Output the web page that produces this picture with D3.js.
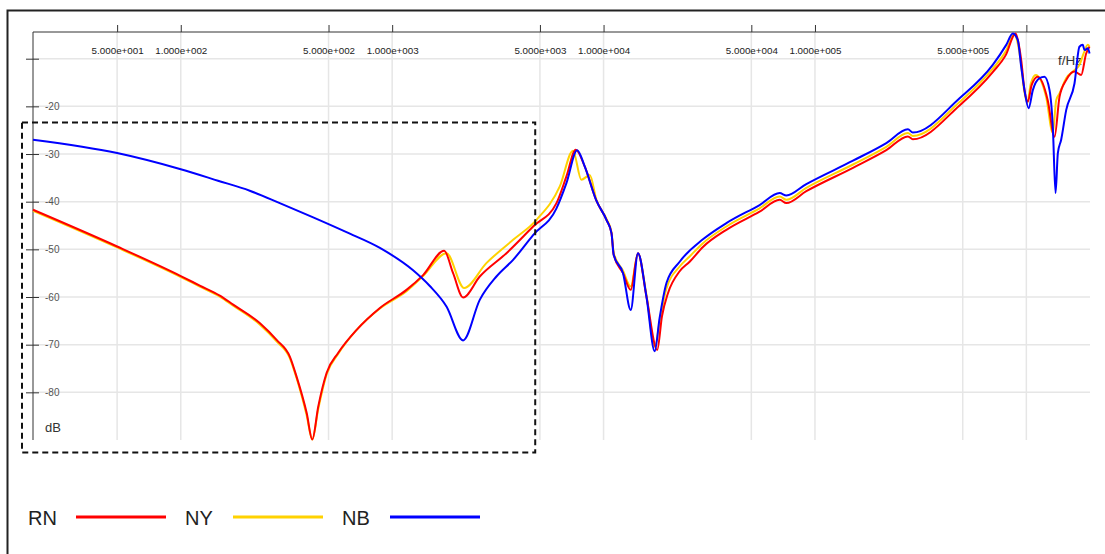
<!DOCTYPE html>
<html>
<head>
<meta charset="utf-8">
<script src="https://cdn.jsdelivr.net/npm/d3@7"></script>
<style>
  body { margin: 0; background: #fff; }
  svg { display: block; font-family: "Liberation Sans", Arial, sans-serif; }
</style>
</head>
<body>
<div id="wrapper"></div>
<script>
// frequency axis (Hz), the last tick has no label
const freqTicks = [50, 100, 500, 1000, 5000, 10000, 50000, 100000, 500000, 1000000];
const freqTickLabels = ["5.000e+001", "1.000e+002", "5.000e+002", "1.000e+003", "5.000e+003",
  "1.000e+004", "5.000e+004", "1.000e+005", "5.000e+005", ""];
const dbTicks = [-10, -20, -30, -40, -50, -60, -70, -80];
const dbTickLabels = ["", "-20", "-30", "-40", "-50", "-60", "-70", "-80"];

const seriesNames = ["RN", "NY", "NB"];

// [frequency Hz, dB]
const rn = [
  [20, -41.7], [50, -49.4], [100, -55.6], [123, -57.6], [153, -59.7], [177, -61.6], [237, -65.5],
  [284, -69.0], [328, -72.5], [353, -76.7], [394, -84.3], [419, -89.9], [447, -83.0], [490, -75.9],
  [556, -71.7], [679, -66.9], [875, -62.3], [1169, -58.5], [1401, -55.4], [1762, -50.3], [1942, -55.0],
  [2166, -60.1], [2596, -55.7], [3473, -50.8], [4642, -45.2], [5988, -40.3], [6673, -34.7], [7386, -29.1],
  [8143, -32.6], [9250, -39.8], [10320, -43.8], [10900, -46.6], [11170, -51.2], [12360, -55.0],
  [13440, -58.5], [14550, -50.8], [15950, -59.9], [17940, -71.1], [18900, -64.0], [20170, -59.2],
  [22910, -54.6], [25540, -52.6], [29520, -49.5], [38100, -45.9], [54710, -42.1], [68080, -39.6],
  [73220, -40.3], [91000, -37.8], [151300, -32.9], [217500, -29.2], [275200, -26.3], [290400, -26.9],
  [483100, -19.8], [693600, -12.8], [800000, -9.2], [888800, -4.7], [945400, -10.3], [980000, -16.6],
  [1016000, -19.0], [1060000, -15.5], [1133000, -13.8], [1262000, -18.7], [1359000, -26.4],
  [1435000, -18.0], [1543000, -14.5], [1689000, -12.7], [1817000, -13.4], [1918000, -8.9], [1990000, -7.5]
];
const ny = [
  [20, -41.9], [50, -49.6], [100, -55.8], [123, -57.8], [153, -59.9], [177, -61.8], [237, -65.8],
  [284, -69.3], [328, -72.8], [353, -77.0], [394, -84.8], [419, -89.9], [447, -83.5], [490, -76.2],
  [556, -71.9], [679, -66.9], [875, -62.4], [1169, -58.8], [1401, -55.6], [1807, -50.8], [2190, -58.1],
  [2790, -52.9], [3733, -48.0], [4818, -43.8], [6207, -36.8], [7170, -29.3], [7855, -35.4], [8604, -34.4],
  [9250, -39.6], [10320, -43.6], [10900, -46.4], [11170, -50.8], [12360, -54.5], [13440, -57.8],
  [14550, -50.9], [15950, -59.5], [17460, -70.4], [18600, -64.0], [19800, -58.3], [22910, -53.6],
  [25540, -51.5], [29520, -48.7], [38100, -45.2], [54710, -41.4], [68080, -38.9], [73220, -39.6],
  [91000, -37.1], [151300, -32.2], [217500, -28.5], [275200, -25.6], [290400, -26.2], [483100, -19.1],
  [693600, -12.1], [800000, -8.4], [875000, -4.9], [940000, -10.5], [975000, -16.5], [1010000, -19.3],
  [1050000, -15.2], [1108000, -13.4], [1240000, -18.0], [1334000, -25.6], [1384000, -18.7],
  [1435000, -17.3], [1543000, -14.1], [1689000, -12.4], [1783000, -11.3], [1866000, -8.9],
  [1953000, -7.1], [1990000, -7.5]
];
const nb = [
  [20, -27.0], [50, -29.8], [100, -33.2], [150, -35.6], [212, -37.7], [294, -40.3], [423, -43.3],
  [608, -46.4], [875, -49.7], [1256, -54.4], [1507, -57.7], [1807, -62.0], [2166, -69.1], [2596, -60.6],
  [3113, -55.7], [3733, -52.2], [4642, -47.0], [5988, -41.4], [6673, -36.1], [7500, -29.2], [8143, -32.6],
  [9250, -39.8], [10320, -43.8], [10900, -46.6], [11170, -51.2], [12360, -55.0], [13440, -62.7],
  [14550, -50.8], [15950, -59.9], [17460, -71.4], [18400, -64.5], [19860, -57.0], [22910, -52.6],
  [29520, -47.9], [38100, -44.5], [54710, -40.7], [68080, -38.2], [73220, -38.7], [91000, -36.3],
  [151300, -31.4], [217500, -27.7], [275200, -24.8], [290400, -25.5], [483100, -18.3], [693600, -11.3],
  [803200, -7.1], [862800, -4.7], [911000, -6.1], [945400, -11.7], [980000, -16.6], [1025000, -20.4],
  [1073000, -16.6], [1154000, -14.1], [1218000, -13.8], [1287000, -16.6], [1334000, -24.3],
  [1374000, -38.2], [1409000, -29.8], [1461000, -27.0], [1543000, -20.8], [1689000, -15.2],
  [1783000, -7.5], [1849000, -7.1], [1884000, -8.2], [1953000, -7.8], [1990000, -8.9]
];

function drawChart() {
  const series = [
    { name: seriesNames[0], values: rn, color: "#ff0000" },
    { name: seriesNames[1], values: ny, color: "#ffd200" },
    { name: seriesNames[2], values: nb, color: "#0000ff" },
  ];

  const dimensions = {
    width: 1105,
    height: 554,
    margin: { top: 32, left: 33, right: 15, bottom: 114 },
  };
  dimensions.boundedWidth = dimensions.width - dimensions.margin.left - dimensions.margin.right;
  dimensions.boundedHeight = dimensions.height - dimensions.margin.top - dimensions.margin.bottom;

  const wrapper = d3.select("#wrapper").append("svg")
    .attr("width", dimensions.width)
    .attr("height", dimensions.height);

  // outer frame (only left and top edges are inside the picture)
  wrapper.append("path")
    .attr("d", "M7.5,554V10.5H1105")
    .attr("fill", "none")
    .attr("stroke", "#222")
    .attr("stroke-width", 2);

  const bounds = wrapper.append("g")
    .attr("transform", `translate(${dimensions.margin.left},${dimensions.margin.top})`);

  const xScale = d3.scaleLog()
    .domain([20, 2e6])
    .range([0, dimensions.boundedWidth]);

  const yScale = d3.scaleLinear()
    .domain([-90, -4.4])
    .range([dimensions.boundedHeight, 0]);

  // grid
  bounds.append("g").selectAll("line")
    .data(freqTicks)
    .join("line")
    .attr("x1", d => xScale(d)).attr("x2", d => xScale(d))
    .attr("y1", 0).attr("y2", dimensions.boundedHeight)
    .attr("stroke", "#e6e6e6").attr("stroke-width", 1.5);

  bounds.append("g").selectAll("line")
    .data(dbTicks)
    .join("line")
    .attr("x1", 0).attr("x2", dimensions.boundedWidth)
    .attr("y1", d => yScale(d)).attr("y2", d => yScale(d))
    .attr("stroke", "#e6e6e6").attr("stroke-width", 1.5);

  // top frequency axis
  const xAxisGenerator = d3.axisTop(xScale)
    .tickValues(freqTicks)
    .tickSize(7)
    .tickFormat((d, i) => freqTickLabels[i]);
  const xAxis = bounds.append("g").call(xAxisGenerator);
  xAxis.select(".domain").attr("d", `M0,0H${dimensions.boundedWidth}`).attr("stroke", "#333");
  xAxis.selectAll(".tick line").attr("stroke", "#333");
  xAxis.selectAll(".tick text")
    .attr("y", 22)
    .attr("font-size", 9.8)
    .attr("fill", "#222")
    .attr("font-family", "Liberation Sans, Arial, sans-serif");

  // left dB axis, ticks cross the line, labels sit inside
  const yAxisGenerator = d3.axisLeft(yScale)
    .tickValues(dbTicks)
    .tickSize(7)
    .tickFormat((d, i) => dbTickLabels[i]);
  const yAxis = bounds.append("g").call(yAxisGenerator);
  yAxis.select(".domain").attr("d", `M0,0V${dimensions.boundedHeight}`).attr("stroke", "#333");
  yAxis.selectAll(".tick line").attr("x1", 6).attr("stroke", "#333");
  yAxis.selectAll(".tick text")
    .attr("x", 12)
    .attr("text-anchor", "start")
    .attr("font-size", 10)
    .attr("fill", "#555")
    .attr("font-family", "Liberation Sans, Arial, sans-serif");

  // unit labels
  bounds.append("text")
    .attr("x", 12).attr("y", dimensions.boundedHeight - 8)
    .attr("font-size", 13).attr("fill", "#333")
    .text("dB");
  bounds.append("text")
    .attr("x", dimensions.boundedWidth - 32).attr("y", 33)
    .attr("font-size", 13.5).attr("fill", "#333")
    .text("f/Hz");

  // curves
  const lineGenerator = d3.line()
    .x(d => xScale(d[0]))
    .y(d => yScale(d[1]))
    .curve(d3.curveMonotoneX);

  const drawOrder = [series[1], series[0], series[2]];
  bounds.append("g").selectAll("path")
    .data(drawOrder)
    .join("path")
    .attr("d", d => lineGenerator(d.values))
    .attr("fill", "none")
    .attr("stroke", d => d.color)
    .attr("stroke-width", 2)
    .attr("stroke-linejoin", "round");

  // dashed highlight box over the low-frequency part
  bounds.append("rect")
    .attr("x", -11)
    .attr("y", yScale(-23.4))
    .attr("width", xScale(4750) + 11)
    .attr("height", yScale(-92.6) - yScale(-23.4))
    .attr("fill", "none")
    .attr("stroke", "#111")
    .attr("stroke-width", 2)
    .attr("stroke-dasharray", "6,4");

  // legend
  const legend = wrapper.append("g")
    .attr("transform", "translate(28,517)");
  const item = legend.selectAll("g")
    .data(series)
    .join("g")
    .attr("transform", (d, i) => `translate(${i * 157},0)`);
  item.append("text")
    .attr("y", 7.5)
    .attr("font-size", 20)
    .attr("fill", "#222")
    .text(d => d.name);
  item.append("line")
    .attr("x1", 48).attr("x2", 138)
    .attr("stroke", d => d.color)
    .attr("stroke-width", 3);
}

drawChart();
</script>
</body>
</html>
